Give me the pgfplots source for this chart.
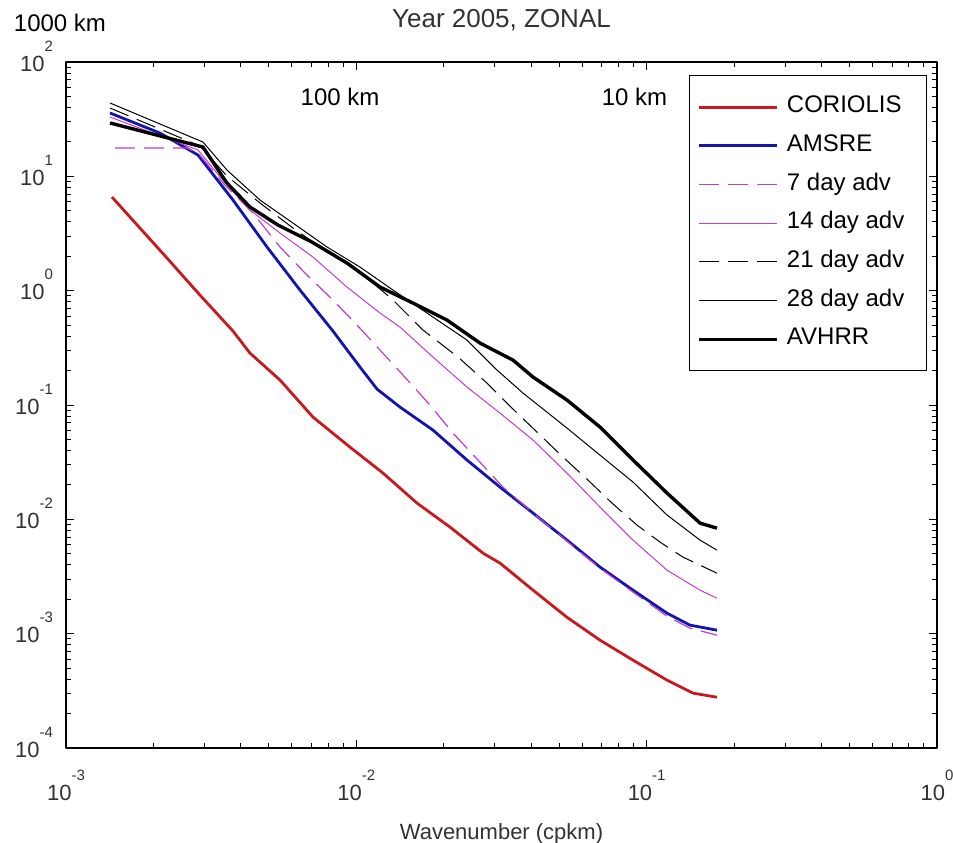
\documentclass[border=0pt]{standalone}
\usepackage{pgfplots}
\pgfplotsset{compat=1.18}
\usepackage{fontspec}
\setmainfont{Liberation Sans}
\definecolor{cor}{RGB}{200,25,30}
\definecolor{ams}{RGB}{20,20,175}
\definecolor{mag}{RGB}{190,60,200}
\definecolor{txt}{RGB}{50,50,50}
\newcommand{\tl}[1]{10\raisebox{10pt}{\fontsize{7.5}{8}\selectfont #1}}
\newcommand{\lent}[1]{#1\hspace*{5pt}}
\begin{document}
\begin{tikzpicture}
\begin{axis}[
  xmode=log, ymode=log,
  scale only axis, width=435.5pt, height=343pt,
  xmin=1e-3, xmax=1, ymin=1e-4, ymax=1e2,
  xtick={1e-3,1e-2,1e-1,1},
  xticklabels={\tl{-3},\tl{-2},\tl{-1},\tl{0}},
  ytick={1e-4,1e-3,1e-2,1e-1,1,10,100},
  yticklabels={\tl{-4},\tl{-3},\tl{-2},\tl{-1},\tl{0},\tl{1},\tl{2}},
  minor xtick={0.002,0.003,0.004,0.005,0.006,0.007,0.008,0.009,0.02,0.03,0.04,0.05,0.06,0.07,0.08,0.09,0.2,0.3,0.4,0.5,0.6,0.7,0.8,0.9},
  minor ytick={0.0002,0.0003,0.0004,0.0005,0.0006,0.0007,0.0008,0.0009,0.002,0.003,0.004,0.005,0.006,0.007,0.008,0.009,0.02,0.03,0.04,0.05,0.06,0.07,0.08,0.09,0.2,0.3,0.4,0.5,0.6,0.7,0.8,0.9,2,3,4,5,6,7,8,9,20,30,40,50,60,70,80,90},
  tick align=inside, major tick length=4pt, minor tick length=2.5pt,
  every tick/.style={black, line width=0.5pt},
  axis line style={line width=0.9pt},
  tick label style={font=\fontsize{11}{13}\selectfont, text=txt},
  xticklabel style={anchor=base, yshift=-26pt},
  yticklabel style={anchor=base east, yshift=-4.5pt, xshift=-3pt},
  clip=false,
  legend style={at={(0.9885,0.981)}, anchor=north east, draw=black, line width=0.6pt,
    font=\fontsize{12}{14}\selectfont, inner xsep=4pt, inner ysep=8.5pt, row sep=4.85pt,
    nodes={inner sep=2pt, text height=8pt, text depth=2.5pt},
    /tikz/every odd column/.append style={column sep=2pt}},
  legend cell align=left,
  legend image code/.code={\draw[#1] (0pt,0pt) -- (39pt,0pt);},
  line join=round,
]
\addplot[cor, line width=1.4pt] coordinates {(0.001440,6.59) (0.002228,1.929) (0.002894,0.915) (0.003761,0.443) (0.004302,0.2844) (0.005461,0.1652) (0.007093,0.0784) (0.009512,0.0428) (0.012359,0.02536) (0.016186,0.01386) (0.021025,0.00855) (0.027320,0.00506) (0.031261,0.00414) (0.040625,0.00240) (0.053185,0.00139) (0.069103,0.000877) (0.089786,0.000586) (0.11758,0.000392) (0.14447,0.000302) (0.17478,0.000278)};
\addlegendentry{\lent{CORIOLIS}}
\addplot[ams, line width=1.4pt] coordinates {(0.001418,35.8) (0.002108,23.9) (0.002849,15.36) (0.003761,6.20) (0.004925,2.41) (0.006398,1.012) (0.008311,0.443) (0.010297,0.2146) (0.011787,0.1377) (0.014142,0.0959) (0.018373,0.0603) (0.024054,0.0330) (0.031261,0.01913) (0.040625,0.01133) (0.053185,0.00658) (0.069103,0.00382) (0.089786,0.00240) (0.11758,0.00151) (0.14108,0.001187) (0.17478,0.001073)};
\addlegendentry{\lent{AMSRE}}
\addplot[mag, line width=0.6pt, dash pattern=on 10pt off 4.5pt] coordinates {(0.001475,17.68) (0.002611,17.68) (0.002849,15.99) (0.003528,8.39) (0.004406,4.77) (0.005461,2.41) (0.006763,1.369) (0.008311,0.828) (0.010055,0.500) (0.012070,0.302) (0.014485,0.1826) (0.017942,0.0998) (0.021528,0.0568) (0.026253,0.0330) (0.032011,0.01913) (0.040625,0.01133) (0.053185,0.00645) (0.069103,0.00374) (0.089786,0.00231) (0.11758,0.00142) (0.14108,0.001117) (0.17478,0.000970)};
\addlegendentry{\lent{7 day adv}}
\addplot[mag, line width=0.5pt] coordinates {(0.001418,33.0) (0.002849,16.99) (0.003585,8.39) (0.004302,5.07) (0.005461,3.19) (0.007093,1.968) (0.009290,1.075) (0.012070,0.637) (0.014142,0.480) (0.018373,0.2625) (0.024054,0.1434) (0.031261,0.0849) (0.040625,0.0493) (0.053185,0.02536) (0.069103,0.01279) (0.089786,0.00658) (0.11758,0.00359) (0.15276,0.00240) (0.17478,0.00204)};
\addlegendentry{\lent{14 day adv}}
\addplot[black, line width=0.5pt, dash pattern=on 10pt off 4.5pt] coordinates {(0.001418,39.6) (0.002894,18.41) (0.003585,10.06) (0.004659,5.84) (0.006053,3.53) (0.007926,2.18) (0.010297,1.455) (0.013381,0.828) (0.016975,0.452) (0.022405,0.2625) (0.028194,0.1555) (0.034377,0.0939) (0.041938,0.0579) (0.051523,0.0350) (0.062822,0.02203) (0.075996,0.01386) (0.092660,0.00890) (0.11125,0.00632) (0.13347,0.00467) (0.17478,0.00338)};
\addlegendentry{\lent{21 day adv}}
\addplot[black, line width=0.5pt] coordinates {(0.001418,43.8) (0.002964,19.95) (0.003585,11.35) (0.004659,6.20) (0.006053,3.90) (0.007926,2.41) (0.010297,1.609) (0.013381,1.012) (0.018373,0.587) (0.024054,0.370) (0.03053,0.2020) (0.037521,0.1271) (0.053185,0.0628) (0.069103,0.0364) (0.089786,0.02116) (0.11758,0.0109) (0.15276,0.00658) (0.17478,0.00537)};
\addlegendentry{\lent{28 day adv}}
\addplot[black, line width=1.7pt] coordinates {(0.001418,29.3) (0.002964,18.04) (0.003585,8.74) (0.004302,5.39) (0.005374,3.75) (0.007037,2.66) (0.009290,1.744) (0.012070,1.075) (0.015676,0.779) (0.020527,0.553) (0.026674,0.348) (0.034654,0.2470) (0.040625,0.1754) (0.053185,0.1104) (0.069103,0.0641) (0.089786,0.0330) (0.11758,0.01695) (0.15276,0.00926) (0.17478,0.00837)};
\addlegendentry{\lent{AVHRR}}
\node[font=\fontsize{12}{14}\selectfont] at (rel axis cs:-0.0069,1.0569) {1000 km};
\node[font=\fontsize{12}{14}\selectfont] at (rel axis cs:0.3146,0.9494) {100 km};
\node[font=\fontsize{12}{14}\selectfont] at (rel axis cs:0.6527,0.9490) {10 km};
\node[font=\fontsize{13}{15}\selectfont, text=txt] at (rel axis cs:0.5,1.0612) {Year 2005, ZONAL};
\node[font=\fontsize{11}{13}\selectfont, text=txt, anchor=base] at (rel axis cs:0.5,-0.1340) {Wavenumber (cpkm)};
\end{axis}
\pgfresetboundingbox
\path (-33pt,-47pt) rectangle (443.5pt,374pt);
\end{tikzpicture}
\end{document}
